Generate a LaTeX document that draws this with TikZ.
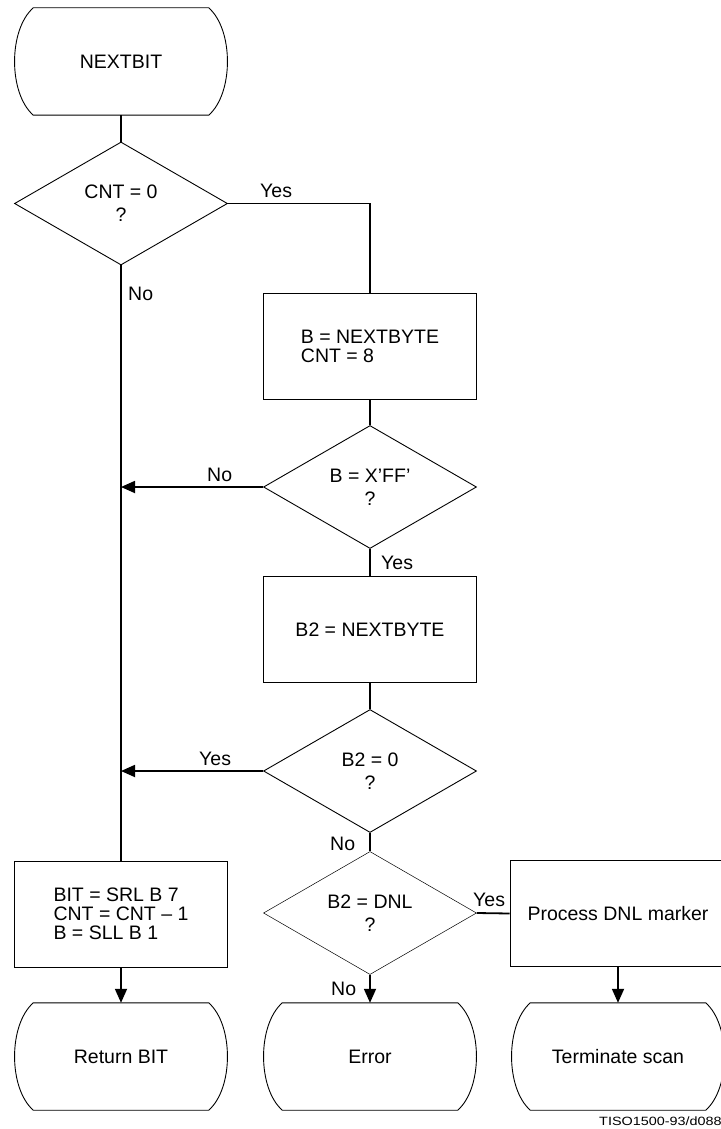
\documentclass[tikz,border=0pt]{standalone}
\usepackage{fontspec}
\setmainfont{Liberation Sans}
\usetikzlibrary{shapes.geometric,arrows.meta,calc}
\tikzset{
  txt/.style={font=\fontsize{19.5}{19}\selectfont},
  shapeline/.style={line width=0.9pt},
  term/.style={txt, rectangle, minimum width=213pt, minimum height=107pt, inner sep=0pt},
  proc/.style={txt, rectangle, draw, shapeline, minimum width=213pt, minimum height=106pt, align=left, inner sep=0pt},
  dec/.style={font=\fontsize{19.5}{23}\selectfont, diamond, draw, shapeline, minimum width=213pt, minimum height=123pt, inner sep=0pt, align=center},
  flow/.style={line width=1.8pt},
  arr/.style={flow, -{Triangle[length=14pt,width=12pt]}},
  lbl/.style={txt, anchor=base west, inner sep=0pt}
}
\newcommand\drawterm[1]{%
  \draw[shapeline] ($(#1.north west)+(19,0)$) -- ($(#1.north east)+(-19,0)$)
    .. controls ($(#1.north east)+(6,22)$) and ($(#1.south east)+(6,-22)$) .. ($(#1.south east)+(-19,0)$)
    -- ($(#1.south west)+(19,0)$)
    .. controls ($(#1.south west)+(-6,-22)$) and ($(#1.north west)+(-6,22)$) .. cycle;}
\begin{document}
\begin{tikzpicture}[x=1pt,y=-1pt]
\fill[white] (0,0) rectangle (720,1129);
\useasboundingbox (0,0) rectangle (720,1129);

% nodes
\node[term] (start) at (121,61.5) {NEXTBIT};
\node[dec] (d1) at (121,203.5) {CNT = 0\\?};
\node[proc] (b1) at (370,346) {B = NEXTBYTE\\CNT = 8};
\node[dec] (d2) at (370,487) {B = X’FF’\\?};
\node[proc] (b2) at (370,629.5) {B2 = NEXTBYTE};
\node[dec] (d3) at (370,771) {B2 = 0\\?};
\node[dec, line width=0.5pt] (d4) at (370,913) {B2 = DNL\\?};
\node[proc] (b3) at (121,914) {BIT = SRL B 7\\CNT = CNT – 1\\B = SLL B 1};
\node[proc, minimum width=216pt] (b4) at (618,913.5) {Process DNL marker};
\node[term] (ret) at (121,1056.5) {Return BIT};
\node[term] (err) at (370,1056.5) {Error};
\node[term] (trm) at (618,1056.5) {Terminate scan};

\drawterm{start}
\drawterm{ret}
\drawterm{err}
\drawterm{trm}

% connectors
\draw[flow] (start.south) -- (d1.north);
\draw[flow] (d1.east) -| (b1.north);
\draw[flow] (d1.south) -- (b3.north);
\draw[flow] (b1.south) -- (d2.north);
\draw[arr] (d2.west) -- (d2.west -| d1.south);
\draw[flow] (d2.south) -- (b2.north);
\draw[flow] (b2.south) -- (d3.north);
\draw[arr] (d3.west) -- (d3.west -| d1.south);
\draw[flow] (d3.south) -- (d4.north);
\draw[flow] (d4.east) -- (b4.west);
\draw[arr] (d4.south) -- (err.north);
\draw[arr] (b4.south) -- (trm.north);
\draw[arr] (b3.south) -- (ret.north);

% labels
\node[lbl] (ly1) at (260,197) {Yes};
\node[lbl] (ln1) at (128,300) {No};
\node[lbl] (ln2) at (207,481) {No};
\node[lbl] (ly2) at (381,569) {Yes};
\node[lbl] (ly3) at (199,765) {Yes};
\node[lbl] (ln3) at (330,850.5) {No};
\node[lbl] (ly4) at (473,906.5) {Yes};
\node[lbl] (ln4) at (331,995) {No};

\node[anchor=base west, inner sep=0pt, font=\fontsize{12}{12}\selectfont] (code) at (599,1125) {\scalebox{1.2}[1]{TISO1500-93/d088}};
\end{tikzpicture}
\end{document}
